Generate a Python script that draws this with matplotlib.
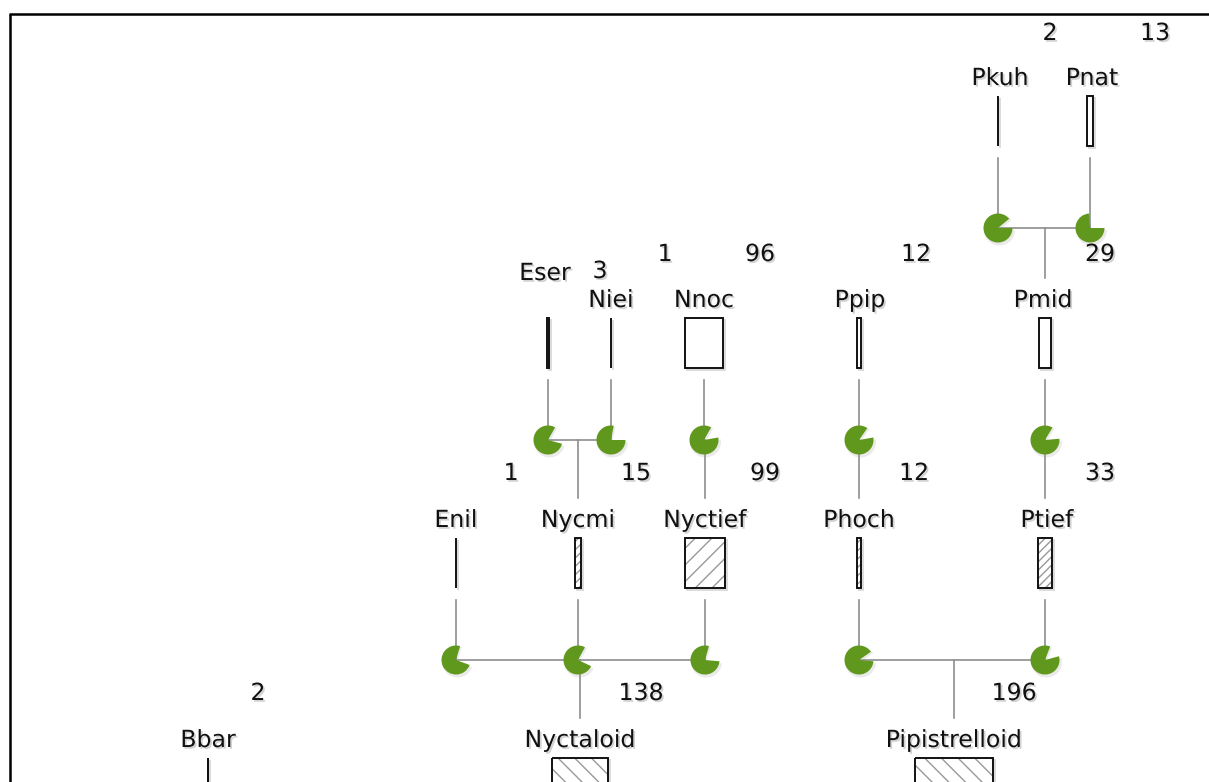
import matplotlib
matplotlib.use("Agg")
import matplotlib.pyplot as plt
from matplotlib.patches import Rectangle, Wedge
import matplotlib.patheffects as pe

# ---------------- data ----------------
names = ["Pkuh", "Pnat", "Eser", "Niei", "Nnoc", "Ppip", "Pmid",
         "Enil", "Nycmi", "Nyctief", "Phoch", "Ptief",
         "Bbar", "Nyctaloid", "Pipistrelloid"]
counts = [2, 13, 3, 1, 96, 12, 29,
          1, 15, 99, 12, 33,
          2, 138, 196]
parents = ["Pmid", "Pmid", "Nycmi", "Nycmi", "Nyctief", "Phoch", "Ptief",
           "Nyctaloid", "Nyctaloid", "Nyctaloid", "Pipistrelloid", "Pipistrelloid",
           None, None, None]
# fraction of each node's pie shown in green
pie_green = [0.89, 0.74, 0.79, 0.78, 0.86, 0.875, 0.85,
             0.74, 0.76, 0.78, 0.89, 0.85,
             None, None, None]

# ---------------- layout (pixel space, y downward) ----------------
node_x = {"Pkuh": 998, "Pnat": 1090, "Eser": 548, "Niei": 611, "Nnoc": 704,
          "Ppip": 859, "Pmid": 1045, "Enil": 456, "Nycmi": 578, "Nyctief": 705,
          "Phoch": 859, "Ptief": 1045, "Bbar": 208, "Nyctaloid": 580,
          "Pipistrelloid": 954}
node_row = {"Pkuh": 0, "Pnat": 0, "Eser": 1, "Niei": 1, "Nnoc": 1, "Ppip": 1,
            "Pmid": 1, "Enil": 2, "Nycmi": 2, "Nyctief": 2, "Phoch": 2,
            "Ptief": 2, "Bbar": 3, "Nyctaloid": 3, "Pipistrelloid": 3}
row_label_y = [78, 300, 520, 740]
row_pie_y = [228, 440, 660, 880]
label_pos_override = {"Eser": (545, 273), "Pkuh": (1000, 78), "Pnat": (1092, 78),
                      "Ppip": (860, 300), "Pmid": (1043, 300), "Ptief": (1047, 520)}
num_pos = {"Pkuh": (1050, 33), "Pnat": (1155, 33), "Eser": (600, 271),
           "Niei": (665, 254), "Nnoc": (760, 254), "Ppip": (916, 254),
           "Pmid": (1100, 254), "Enil": (511, 473), "Nycmi": (636, 473),
           "Nyctief": (765, 473), "Phoch": (914, 473), "Ptief": (1100, 473),
           "Bbar": (258, 693), "Nyctaloid": (641, 693), "Pipistrelloid": (1014, 693)}
gap_start = {"Pkuh": 0, "Pnat": 0, "Eser": -15, "Niei": 0, "Nnoc": 10,
             "Ppip": 10, "Pmid": 5, "Enil": -20, "Nycmi": -25, "Nyctief": -5,
             "Phoch": -5, "Ptief": 15}
hatches = {"Nycmi": "////", "Nyctief": "//", "Phoch": "////", "Ptief": "////",
           "Nyctaloid": "\\\\", "Pipistrelloid": "\\\\"}
PX_PER_COUNT = 0.4
BAR_H = 50
PIE_R = 14.5
GREEN = "#5f981c"
EDGE_GRAY = "#8e8e8e"
TEXT_COL = "#111111"

W, H = 1209, 782
fig = plt.figure(figsize=(W / 100, H / 100), dpi=100)
ax = fig.add_axes([0, 0, 1, 1])
ax.set_xlim(0, W)
ax.set_ylim(H, 0)
ax.axis("off")

shadow = [pe.withSimplePatchShadow(offset=(1.3, -1.3), shadow_rgbFace="0.5", alpha=0.35)]

# frame (top and left lines)
ax.plot([9, W], [14, 14], color="black", lw=1.8, solid_capstyle="butt", zorder=10)
ax.plot([10, 10], [14, H], color="black", lw=1.8, solid_capstyle="butt", zorder=10)

info = {n: dict(count=c, parent=p, green=g) for n, c, p, g in zip(names, counts, parents, pie_green)}

def label_xy(n):
    if n in label_pos_override:
        return label_pos_override[n]
    return node_x[n], row_label_y[node_row[n]]

def bar_top(n):
    return row_label_y[node_row[n]] + 18

# edges
children = {}
for n in names:
    p = info[n]["parent"]
    if p is not None:
        children.setdefault(p, []).append(n)

for n in names:
    x = node_x[n]
    r = node_row[n]
    if info[n]["parent"] is None:
        continue
    y0 = bar_top(n) + BAR_H + 12
    y1 = row_pie_y[r]
    ax.plot([x, x], [y0, y1], color=EDGE_GRAY, lw=1.2, zorder=1)

for p, ch in children.items():
    r = node_row[ch[0]]
    yj = row_pie_y[r]
    xs = [node_x[c] for c in ch] + [node_x[p]]
    if len(ch) > 1:
        ax.plot([min(xs), max(xs)], [yj, yj], color=EDGE_GRAY, lw=1.2, zorder=1)
    px = node_x[p]
    ax.plot([px, px], [yj, row_label_y[node_row[p]] - 22], color=EDGE_GRAY, lw=1.2, zorder=1)

# pies
for n in names:
    g = info[n]["green"]
    if g is None:
        continue
    cx, cy = node_x[n], row_pie_y[node_row[n]]
    s = gap_start[n]
    gap = (1 - g) * 360
    e = s + gap
    ax.add_patch(Wedge((cx + 1.5, cy + 2), PIE_R + 1, -s, 360 - e, facecolor="0.6",
                       edgecolor="none", alpha=0.2, zorder=2))
    ax.add_patch(Wedge((cx, cy), PIE_R, -s, 360 - e, facecolor=GREEN,
                       edgecolor="none", zorder=3))

# bars
for n in names:
    c = info[n]["count"]
    w = c * PX_PER_COUNT
    x = node_x[n]
    y = bar_top(n)
    ax.add_patch(Rectangle((x - w / 2 + 2, y + 2), w, BAR_H, facecolor="none",
                           edgecolor="0.6", lw=1.4, alpha=0.35, zorder=2))
    ax.add_patch(Rectangle((x - w / 2, y), w, BAR_H, facecolor="white",
                           edgecolor="none", zorder=3))
    if n in hatches:
        ax.add_patch(Rectangle((x - w / 2, y), w, BAR_H, facecolor="none",
                               edgecolor="0.6", lw=0, hatch=hatches[n], zorder=4))
    ax.add_patch(Rectangle((x - w / 2, y), w, BAR_H, facecolor="none",
                           edgecolor="#111111", lw=1.4, zorder=5))

# labels and counts
for n in names:
    lx, ly = label_xy(n)
    ax.text(lx, ly, n, ha="center", va="center", fontsize=17, color=TEXT_COL,
            family="DejaVu Sans", zorder=6, path_effects=shadow)
    nx, ny = num_pos[n]
    ax.text(nx, ny, str(info[n]["count"]), ha="center", va="center", fontsize=17,
            color=TEXT_COL, family="DejaVu Sans", zorder=7, path_effects=shadow)

fig.savefig("out.png", dpi=100, facecolor="white")
